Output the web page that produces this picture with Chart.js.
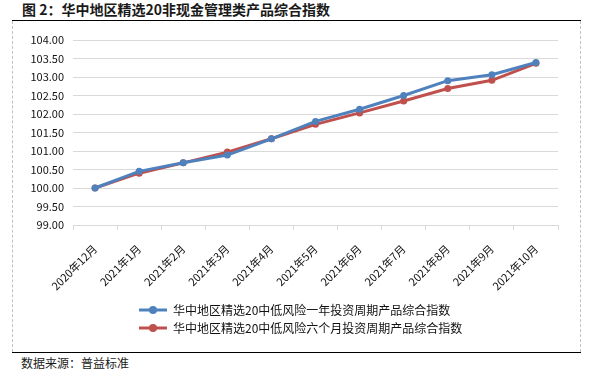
<!DOCTYPE html>
<html>
<head>
<meta charset="utf-8">
<script src="https://cdn.jsdelivr.net/npm/chart.js@4.4.1/dist/chart.umd.min.js"></script>
<style>
  html, body { margin: 0; padding: 0; background: #fff; }
  #wrap { position: relative; width: 595px; height: 373px; overflow: hidden; font-family: "Noto Sans CJK SC", sans-serif; }
  #title { position: absolute; left: 22px; top: 0px; font-size: 14px; line-height: 19px; font-weight: bold; color: #1a1a1a; white-space: nowrap; }
  #topline { position: absolute; left: 12px; top: 20px; width: 569px; height: 0; border-top: 1.5px solid #000; }
  #leftdash { position: absolute; left: 12px; top: 21px; width: 0; height: 331px; border-left: 1px dashed #c0c0c0; }
  #rightdash { position: absolute; left: 580px; top: 21px; width: 0; height: 331px; border-left: 1px dashed #c0c0c0; }
  #botline { position: absolute; left: 12px; top: 352px; width: 569px; height: 0; border-top: 1.5px solid #000; }
  #source { position: absolute; left: 21px; top: 355px; font-size: 12px; line-height: 16px; color: #1a1a1a; white-space: nowrap; }
  canvas { position: absolute; left: 0; top: 0; }
</style>
</head>
<body>
<div id="wrap">
  <div id="title">图 2：华中地区精选20非现金管理类产品综合指数</div>
  <div id="topline"></div>
  <div id="leftdash"></div>
  <div id="rightdash"></div>
  <div id="botline"></div>
  <div id="source">数据来源：普益标准</div>
  <canvas id="c" width="595" height="373"></canvas>
</div>
<script>
const categories = ["2020年12月","2021年1月","2021年2月","2021年3月","2021年4月","2021年5月","2021年6月","2021年7月","2021年8月","2021年9月","2021年10月"];
const seriesNames = ["华中地区精选20中低风险一年投资周期产品综合指数","华中地区精选20中低风险六个月投资周期产品综合指数"];
const oneYear = [100.00,100.45,100.68,100.89,101.33,101.80,102.13,102.50,102.90,103.06,103.39];
const sixMonth = [100.00,100.40,100.68,100.97,101.33,101.72,102.03,102.35,102.69,102.91,103.37];
const yTicks = [99.00,99.50,100.00,100.50,101.00,101.50,102.00,102.50,103.00,103.50,104.00];

const colors = ["#4F81BD", "#C0504D"];

function legendIcon(color) {
  const cv = document.createElement('canvas');
  cv.width = 28; cv.height = 10;
  const g = cv.getContext('2d');
  g.strokeStyle = color; g.lineWidth = 3;
  g.beginPath(); g.moveTo(0, 5); g.lineTo(28, 5); g.stroke();
  g.fillStyle = color;
  g.beginPath(); g.arc(14, 5, 4, 0, Math.PI * 2); g.fill();
  return cv;
}
const icons = colors.map(legendIcon);

const legendShift = {
  id: 'legendShift',
  afterLayout(chart) {
    const lg = chart.legend;
    if (!lg) return;
    const dx = 133 - lg.left;
    lg.left += dx; lg.right += dx;
  }
};

new Chart(document.getElementById('c'), {
  type: 'line',
  data: {
    labels: categories,
    datasets: [
      { label: seriesNames[0], data: oneYear, borderColor: colors[0], backgroundColor: colors[0], borderWidth: 3, pointRadius: 3.5, pointBackgroundColor: colors[0], pointBorderColor: colors[0], pointBorderWidth: 0, tension: 0 },
      { label: seriesNames[1], data: sixMonth, borderColor: colors[1], backgroundColor: colors[1], borderWidth: 3, pointRadius: 3.5, pointBackgroundColor: colors[1], pointBorderColor: colors[1], pointBorderWidth: 0, tension: 0 }
    ]
  },
  options: {
    responsive: false,
    animation: false,
    devicePixelRatio: 1,
    layout: { padding: { left: 20, right: 37, top: 40, bottom: 29 } },
    plugins: {
      tooltip: { enabled: false },
      title: { display: false },
      legend: {
        display: true,
        position: 'bottom',
        align: 'start',
        labels: {
          usePointStyle: true,
          pointStyleWidth: 28,
          boxHeight: 12,
          padding: 6,
          color: '#111',
          font: { family: '"Noto Sans CJK SC", sans-serif', size: 12 },
          generateLabels(chart) {
            const items = Chart.defaults.plugins.legend.labels.generateLabels(chart);
            items.forEach((it, i) => { it.pointStyle = icons[i]; });
            return items;
          }
        }
      }
    },
    scales: {
      x: {
        type: 'category',
        offset: true,
        grid: { display: true, offset: true, drawOnChartArea: false, drawTicks: true, tickLength: 5, color: '#d9d9d9', lineWidth: 1 },
        border: { display: true, color: '#d9d9d9', width: 1 },
        ticks: { autoSkip: false, maxRotation: 45, minRotation: 45, padding: 12, color: '#111', font: { family: '"Noto Sans CJK SC", sans-serif', size: 11 } },
        afterFit(scale) { scale.height = 73; }
      },
      y: {
        min: 99, max: 104,
        afterBuildTicks(scale) { scale.ticks = yTicks.map(v => ({ value: v })); },
        grid: { display: true, drawTicks: false, color: '#d9d9d9', lineWidth: 1 },
        border: { display: false },
        ticks: { padding: 9, color: '#111', font: { family: '"Noto Sans CJK SC", sans-serif', size: 11 }, callback: (v) => Number(v).toFixed(2) },
        afterFit(scale) { scale.width = 53; }
      }
    }
  },
  plugins: [legendShift]
});
</script>
</body>
</html>
